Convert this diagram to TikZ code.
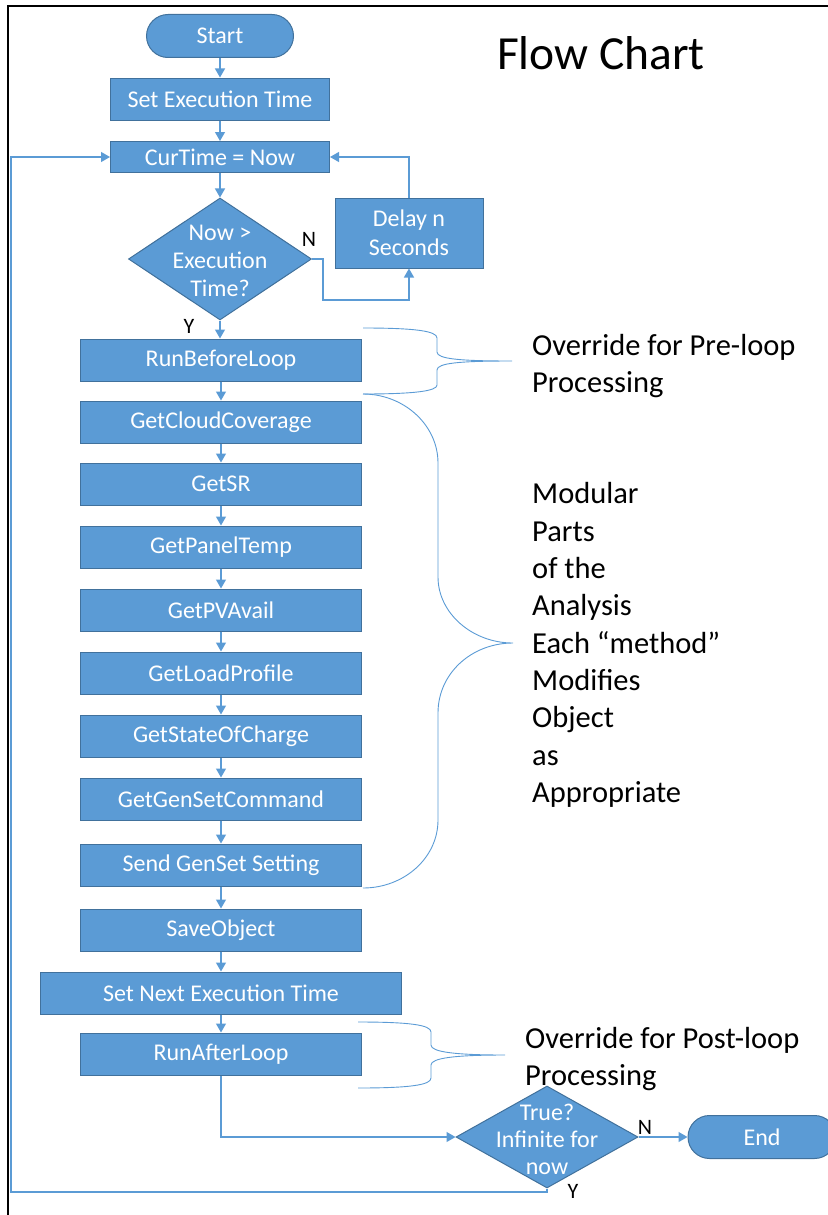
\documentclass[tikz,border=0pt]{standalone}
\usepackage{fontspec}
\setmainfont{Carlito}
\usetikzlibrary{arrows.meta,shapes.geometric,calc}
\definecolor{fblue}{HTML}{5B9BD5}
\definecolor{fedge}{HTML}{41719C}
\begin{document}
\begin{tikzpicture}[x=1pt,y=-1pt,
  proc/.style={rectangle,fill=fblue,draw=fedge,line width=1pt,text=white,inner sep=0pt,
    minimum width=281pt,minimum height=42pt,font=\fontsize{24}{29}\selectfont,align=center},
  term/.style={proc,rounded corners=21.5pt,minimum width=147pt,minimum height=43pt},
  decshape/.style={diamond,fill=fblue,draw=fedge,line width=1pt,inner sep=0pt},
  dectext/.style={text=white,inner sep=0pt,align=center,font=\fontsize{24}{28}\selectfont},
  conn/.style={draw=fblue,line width=1.2pt,-{Triangle[length=9pt,width=10pt]}},
  yn/.style={text=black,inner sep=0pt,font=\fontsize{22}{24}\selectfont},
  brace/.style={draw=fblue,line width=0.9pt},
  note/.style={text=black,inner sep=0pt,anchor=west,align=left,font=\fontsize{30.5}{37.3}\selectfont}
]
\useasboundingbox (0,0) rectangle (827,1215);
% frame
\draw[line width=2pt] (8,1220) -- (8,6.5) -- (830,6.5);

% title
\node[text=black,inner sep=0pt,font=\fontsize{47.5}{50}\selectfont] (title) at (601,53) {Flow Chart};

% nodes
\node[term] (start) at (220,36) {Start};
\node[proc,minimum width=219pt] (setex) at (220,99) {Set Execution Time};
\node[proc,minimum width=219pt,minimum height=31pt] (cur) at (220,157) {CurTime = Now};
\node[decshape,minimum width=183pt,minimum height=122pt] (d1) at (220,259) {};
\node[dectext] (d1t) at (220,261) {Now >\\Execution\\Time?};
\node[proc,minimum width=148pt,minimum height=70pt] (delay) at (409,233) {Delay n\\Seconds};
\node[proc] (rbl) at (221,360) {RunBeforeLoop};
\node[proc] (gcc) at (221,422) {GetCloudCoverage};
\node[proc] (gsr) at (221,484) {GetSR};
\node[proc] (gpt) at (221,547) {GetPanelTemp};
\node[proc] (gpv) at (221,610) {GetPVAvail};
\node[proc] (glp) at (221,673) {GetLoadProfile};
\node[proc] (gsc) at (221,736) {GetStateOfCharge};
\node[proc] (ggc) at (221,799) {GetGenSetCommand};
\node[proc] (sgs) at (221,865) {Send GenSet Setting};
\node[proc] (sav) at (221,930) {SaveObject};
\node[proc,minimum width=361pt] (snx) at (221,993) {Set Next Execution Time};
\node[proc] (ral) at (221,1054) {RunAfterLoop};
\node[decshape,minimum width=182pt,minimum height=102pt] (d2) at (547,1137) {};
\node[dectext,font=\fontsize{24}{27}\selectfont] (d2t) at (547,1139) {True?\\Infinite for\\now};
\node[term,minimum width=148pt] (endn) at (762,1137) {End};

% labels
\node[yn] (n1l) at (309,239) {N};
\node[yn] (y1l) at (189,326) {Y};
\node[yn] (n2l) at (645,1127) {N};
\node[yn] (y2l) at (573,1191) {Y};

% connectors
\draw[conn] (start) -- (setex);
\draw[conn] (setex) -- (cur);
\draw[conn] (cur) -- (d1);
\coordinate (nb) at (323,300);
\draw[conn] (d1.east) -| (nb) -| (delay.south);
\draw[conn] (delay.north) |- (cur.east);
\draw[conn] (d1.south) -- (d1.south |- rbl.north);
\draw[conn] (rbl) -- (gcc);
\draw[conn] (gcc) -- (gsr);
\draw[conn] (gsr) -- (gpt);
\draw[conn] (gpt) -- (gpv);
\draw[conn] (gpv) -- (glp);
\draw[conn] (glp) -- (gsc);
\draw[conn] (gsc) -- (ggc);
\draw[conn] (ggc) -- (sgs);
\draw[conn] (sgs) -- (sav);
\draw[conn] (sav) -- (snx);
\draw[conn] (snx) -- (ral);
\draw[conn] (ral.south) |- (d2.west);
\draw[conn] (d2.east) -- (endn.west);
\coordinate (lp) at (11,1192);
\draw[conn] (d2.south) |- (lp) |- (cur.west);

% braces
\draw[brace] (363,328) .. controls (415,328) and (437,331) .. (437,338) -- (437,352)
  .. controls (437,359) and (460,361) .. (512,361)
  .. controls (460,361) and (437,363) .. (437,370) -- (437,385)
  .. controls (437,391) and (415,394) .. (363,394);
\draw[brace] (363,394) .. controls (404,394) and (438,425) .. (438,463) -- (438,577)
  .. controls (438,613) and (472,643) .. (513,643)
  .. controls (472,643) and (438,673) .. (438,713) -- (438,820)
  .. controls (438,858) and (404,888) .. (363,888);
\draw[brace] (358,1022) .. controls (410,1022) and (431,1025) .. (431,1032) -- (431,1045)
  .. controls (431,1052) and (455,1055) .. (505,1055)
  .. controls (455,1055) and (431,1058) .. (431,1065) -- (431,1078)
  .. controls (431,1085) and (410,1088) .. (358,1088);

% notes
\node[note] (pre) at (532,366) {Override for Pre-loop\\Processing};
\node[note] (mod) at (532,645) {Modular\\Parts\\of the\\Analysis\\Each “method”\\Modifies\\Object\\as\\Appropriate};
\node[note] (post) at (525,1059) {Override for Post-loop\\Processing};
\end{tikzpicture}
\end{document}
